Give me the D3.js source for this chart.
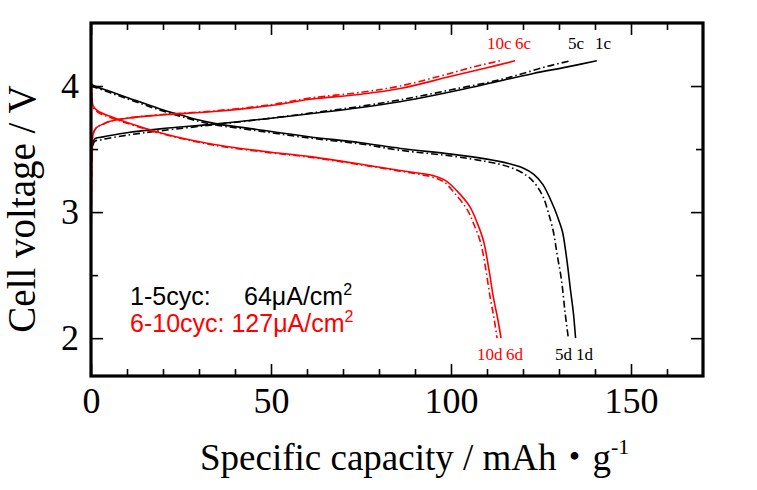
<!DOCTYPE html>
<html><head><meta charset="utf-8">
<script src="https://cdn.jsdelivr.net/npm/d3@7"></script>
<style>body{margin:0;background:#fff}svg{display:block}</style>
</head><body>
<svg id="c" width="757" height="490"></svg>
<script>
// ---- data (capacity mAh/g, voltage V) ----
const d1 = [[0,4.02],[1,4.0],[5,3.96],[10,3.91],[19,3.82],[25,3.77],[30,3.73],[35,3.70],[45,3.66],[60,3.60],[75,3.55],[86,3.505],[100,3.46],[110,3.42],[116,3.385],[120,3.35],[123,3.30],[125.5,3.22],[128.4,3.05],[130,2.93],[131,2.84],[131.8,2.70],[132.5,2.55],[133.2,2.38],[134,2.2],[134.6,2.0]];
const d5 = [[0,4.0],[5,3.95],[10,3.90],[19,3.81],[30,3.72],[35,3.69],[45,3.65],[60,3.59],[75,3.54],[86,3.49],[100,3.445],[110,3.40],[116,3.36],[121,3.29],[123.5,3.22],[125.6,3.12],[127,3.0],[128.4,2.85],[129.5,2.66],[130.7,2.46],[131.7,2.2],[132.6,2.0]];
const d6 = [[0,4.03],[0.2,3.95],[0.6,3.84],[2,3.80],[5.3,3.76],[10,3.71],[19.2,3.63],[28,3.57],[37.7,3.52],[50,3.475],[60.8,3.44],[75,3.38],[85.8,3.33],[95,3.29],[98.5,3.25],[101.6,3.17],[105.3,3.04],[107.2,2.92],[109,2.775],[110.5,2.55],[111.8,2.32],[113,2.15],[113.9,2.0]];
const d10 = [[0,4.02],[0.2,3.94],[0.6,3.83],[2,3.79],[5.3,3.75],[10,3.705],[19.2,3.625],[28,3.565],[37.7,3.515],[50,3.47],[60.8,3.435],[75,3.375],[85.8,3.325],[94.5,3.28],[98,3.24],[101,3.15],[104.5,3.02],[106.4,2.90],[108.2,2.76],[109.7,2.54],[110.9,2.32],[112,2.15],[112.8,2.0]];
const c1 = [[0,3.3],[0.3,3.5],[1,3.58],[3,3.595],[10,3.63],[19.2,3.66],[34.9,3.70],[50,3.745],[60.8,3.78],[75,3.83],[85.8,3.876],[95,3.925],[104.3,3.98],[115,4.05],[122.9,4.10],[132,4.15],[140.5,4.20]];
const c5 = [[0,3.3],[0.3,3.48],[1,3.56],[3,3.575],[10,3.61],[19.2,3.645],[34.9,3.695],[50,3.745],[60.8,3.785],[75,3.84],[85.8,3.89],[100,3.97],[113.6,4.05],[120,4.10],[126.6,4.155],[133.2,4.20]];
const c6 = [[0,2.7],[0.15,3.2],[0.3,3.5],[0.6,3.62],[1.5,3.67],[3.5,3.70],[5.3,3.72],[10,3.745],[19.2,3.77],[35,3.80],[50,3.845],[60.8,3.895],[75,3.935],[85.8,3.98],[99.7,4.075],[110,4.145],[117.8,4.20]];
const c10 = [[0,2.7],[0.15,3.2],[0.3,3.5],[0.6,3.62],[1.5,3.67],[3.5,3.70],[5.3,3.72],[10,3.745],[19.2,3.772],[35,3.805],[50,3.852],[60.8,3.905],[75,3.95],[85.8,4.0],[99.7,4.10],[106,4.15],[113.6,4.20]];
const xMajor = [0,50,100,150];
const xMinor = [10,20,30,40,60,70,80,90,110,120,130,140,160];
const yMajor = [2,3,4];
const yMinor = [2.5,3.5];
const legendLines = [["1-5cyc:", "64μA/cm", "2"], ["6-10cyc:", "127μA/cm", "2"]];
const chargeLabels = [["10c", "6c"], ["5c", "1c"]];
const dischargeLabels = [["10d", "6d"], ["5d", "1d"]];

// ---- layout ----
const svg = d3.select("#c");
const L = 91, R = 703, T = 23, B = 376;
const x = d3.scaleLinear().domain([0,170]).range([L,R]);
const y = d3.scaleLinear().domain([1.7,4.5]).range([B,T]);
const serif = "'Times New Roman','Liberation Serif',serif";
const sans = "Arial,'Liberation Sans',sans-serif";
const RED = "#ff0000";

// curves
const line = d3.line().x(d=>x(d[0])).y(d=>y(d[1])).curve(d3.curveCatmullRom.alpha(0.5));
const DD = "7,3,1.5,3";
const series = [
  {d:c1, col:"#000", dash:null},
  {d:c5, col:"#000", dash:DD},
  {d:d1, col:"#000", dash:null},
  {d:d5, col:"#000", dash:DD},
  {d:c10, col:RED, dash:DD},
  {d:c6, col:RED, dash:null},
  {d:d10, col:RED, dash:DD},
  {d:d6, col:RED, dash:null}
];
svg.append("clipPath").attr("id","pc").append("rect")
  .attr("x",L).attr("y",T).attr("width",R-L).attr("height",B-T);
const g = svg.append("g").attr("clip-path","url(#pc)");
series.forEach(s=>{
  g.append("path").attr("d", line(s.d)).attr("fill","none")
   .attr("stroke", s.col).attr("stroke-width",1.6)
   .attr("stroke-dasharray", s.dash);
});

// axes
function styleAxis(sel){
  sel.select(".domain").remove();
  sel.selectAll(".tick line").attr("stroke","#000").attr("stroke-width",1.6);
  sel.selectAll(".tick text").attr("font-family",serif).attr("font-size",36).attr("fill","#000");
}
svg.append("g").attr("transform",`translate(0,${B})`)
  .call(d3.axisBottom(x).tickValues(xMajor).tickSize(-12).tickPadding(11).tickFormat(d3.format("d")))
  .call(styleAxis);
svg.append("g").attr("transform",`translate(0,${B})`)
  .call(d3.axisBottom(x).tickValues(xMinor).tickSize(-7).tickFormat(""))
  .call(styleAxis);
svg.append("g").attr("transform",`translate(0,${T})`)
  .call(d3.axisTop(x).tickValues(xMajor).tickSize(-12).tickFormat(""))
  .call(styleAxis);
svg.append("g").attr("transform",`translate(0,${T})`)
  .call(d3.axisTop(x).tickValues(xMinor).tickSize(-7).tickFormat(""))
  .call(styleAxis);
svg.append("g").attr("transform",`translate(${L},0)`)
  .call(d3.axisLeft(y).tickValues(yMajor).tickSize(-12).tickPadding(12).tickFormat(d3.format("d")))
  .call(styleAxis);
svg.append("g").attr("transform",`translate(${L},0)`)
  .call(d3.axisLeft(y).tickValues(yMinor).tickSize(-7).tickFormat(""))
  .call(styleAxis);
svg.append("g").attr("transform",`translate(${R},0)`)
  .call(d3.axisRight(y).tickValues(yMajor).tickSize(-12).tickFormat(""))
  .call(styleAxis);
svg.append("g").attr("transform",`translate(${R},0)`)
  .call(d3.axisRight(y).tickValues(yMinor).tickSize(-7).tickFormat(""))
  .call(styleAxis);

// frame
svg.append("rect").attr("x",L).attr("y",T).attr("width",R-L).attr("height",B-T)
  .attr("fill","none").attr("stroke","#000").attr("stroke-width",3.2);

// axis titles
const xt = svg.append("text").attr("x",200).attr("y",470)
  .attr("font-family",serif).attr("font-size",37).attr("fill","#000");
xt.append("tspan").text("Specific capacity / mAh");
xt.append("tspan").attr("font-family","'Noto Sans CJK JP',sans-serif").attr("font-size",36).text("・");
xt.append("tspan").text("g");
xt.append("tspan").attr("font-size",22).attr("dy",-16).text("-1");

svg.append("text").attr("transform","translate(35,209) rotate(-90)")
  .attr("text-anchor","middle").attr("font-family",serif).attr("font-size",39)
  .attr("fill","#000").text("Cell voltage / V");

// legend
// line 1: label and value are spaced apart
svg.append("text").attr("x",130).attr("y",305).attr("font-family",sans)
  .attr("font-size",25).attr("fill","#000").text(legendLines[0][0]);
const l1 = svg.append("text").attr("x",244).attr("y",305).attr("font-family",sans)
  .attr("font-size",25).attr("fill","#000");
l1.append("tspan").text(legendLines[0][1]);
l1.append("tspan").attr("font-size",16).attr("dy",-10).text(legendLines[0][2]);
// line 2: single run of text
const l2 = svg.append("text").attr("x",130).attr("y",332).attr("font-family",sans)
  .attr("font-size",25).attr("fill",RED);
l2.append("tspan").text(legendLines[1][0] + " " + legendLines[1][1]);
l2.append("tspan").attr("font-size",16).attr("dy",-10).text(legendLines[1][2]);

// curve labels
const annot = [
  {t:chargeLabels[0][0], x:487, y:49, c:RED},
  {t:chargeLabels[0][1], x:515, y:49, c:RED},
  {t:chargeLabels[1][0], x:568, y:49, c:"#000"},
  {t:chargeLabels[1][1], x:595, y:49, c:"#000"},
  {t:dischargeLabels[0][0], x:477, y:360, c:RED},
  {t:dischargeLabels[0][1], x:506, y:360, c:RED},
  {t:dischargeLabels[1][0], x:555, y:360, c:"#000"},
  {t:dischargeLabels[1][1], x:576, y:360, c:"#000"}
];
annot.forEach(a=>{
  svg.append("text").attr("x",a.x).attr("y",a.y).attr("font-family",serif)
    .attr("font-size",17).attr("fill",a.c).text(a.t);
});
</script>
</body></html>
